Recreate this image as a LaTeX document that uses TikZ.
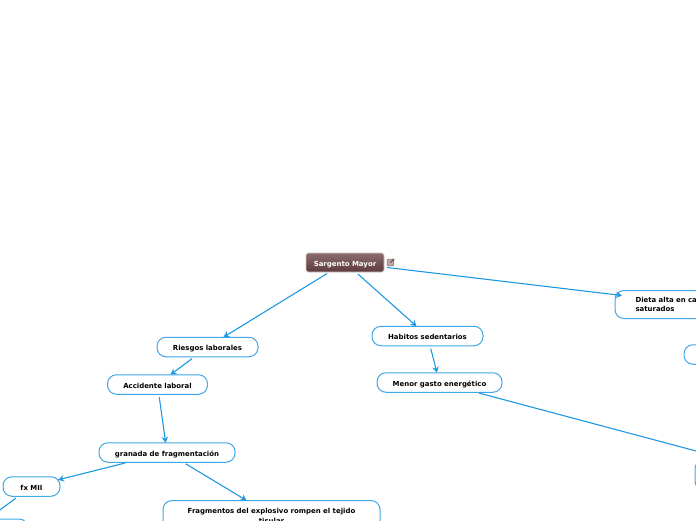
\documentclass[tikz,border=0pt]{standalone}
\usepackage{fontspec}
\usepackage{xcolor}
\usepackage{tikz}
\usetikzlibrary{arrows.meta, positioning, fit, calc}
\setmainfont{DejaVu Sans}
\definecolor{LinkBlue}{RGB}{30, 152, 226}
\definecolor{RootDark}{RGB}{92, 58, 62}
\definecolor{RootLight}{RGB}{140, 108, 110}
\tikzset{
  topicbox/.style={draw=LinkBlue!85!white, fill=white, rounded corners=9pt, line width=1pt,
        minimum height=19.5pt, inner sep=0pt, outer sep=0pt, align=center,
        font=\fontsize{6.95}{9.8}\selectfont\bfseries\color{black}},
  oneline/.style={text height=8pt, text depth=1pt},
  rootbox/.style={draw=RootLight!40!white, top color=RootLight, bottom color=RootDark, rounded corners=2.5pt,
        line width=0.6pt, minimum width=78pt, minimum height=19pt, inner sep=0pt, outer sep=0pt,
        font=\fontsize{6.95}{8}\selectfont\bfseries\color{white}},
  linkline/.style={draw=LinkBlue, line width=1.1pt, shorten <=3pt, -{Stealth[length=6pt,width=6.5pt]}}
}
\begin{document}
\begin{tikzpicture}[x=1pt, y=-1pt]
      \useasboundingbox[clip] (0,0) rectangle (696,520);
      \node[rootbox, oneline] (sargento) at (345,262.5) {Sargento Mayor};
      \node[draw=RootDark!70!white, fill=RootLight!55!white, line width=0.8pt, minimum size=6.5pt, inner sep=0pt, rounded corners=1pt] (icono) at (390.5,262.5) {};
      \draw[RootDark, line width=0.8pt] (icono.center) -- (icono.north east);
      \node[topicbox, oneline, minimum width=101pt] (riesgos) at (207.5,347) {Riesgos laborales};
      \node[topicbox, oneline, minimum width=100pt] (accidente) at (157.5,384.5) {Accidente laboral};
      \node[topicbox, oneline, minimum width=136pt] (granada) at (167,452.5) {granada de fragmentación};
      \node[topicbox, oneline, minimum width=57pt] (fxmii) at (31.5,486.5) {fx MII};
      \node[topicbox, minimum width=118pt, minimum height=28pt] (lesion) at (-31,533) {};
      \node[topicbox, minimum width=217pt, minimum height=30pt] (fragmentos) at (271.5,515.5) {Fragmentos del explosivo rompen el tejido\\tisular};
      \node[topicbox, oneline, minimum width=111pt] (habitos) at (427.5,336) {Habitos sedentarios};
      \node[topicbox, oneline, minimum width=125pt] (menor) at (439.5,382.5) {Menor gasto energético};
      \node[topicbox, minimum width=166pt, minimum height=28pt, text width=125pt, align=left] (dieta) at (698,304.5) {Dieta alta en carbohidratos\\saturados};
      \node[topicbox, minimum width=152pt] (sub) at (760,354.5) {};
      \node[topicbox, minimum width=182pt, minimum height=30pt] (gasto) at (786,475) {};
      % conectores
      \draw[linkline] (sargento) -- (riesgos);
      \draw[linkline] (sargento) -- (habitos);
      \draw[linkline, shorten >=-7pt] (sargento) -- (dieta);
      \draw[linkline] (riesgos) -- (accidente);
      \draw[linkline] (habitos) -- (menor);
      \draw[linkline] (accidente) -- (granada);
      \draw[linkline, shorten >=-2pt] (granada) -- (fxmii);
      \draw[linkline] (granada) -- (fragmentos);
      \draw[linkline] (fxmii) -- (lesion);
      \draw[linkline] (menor) -- (gasto);
    \end{tikzpicture}
\end{document}
